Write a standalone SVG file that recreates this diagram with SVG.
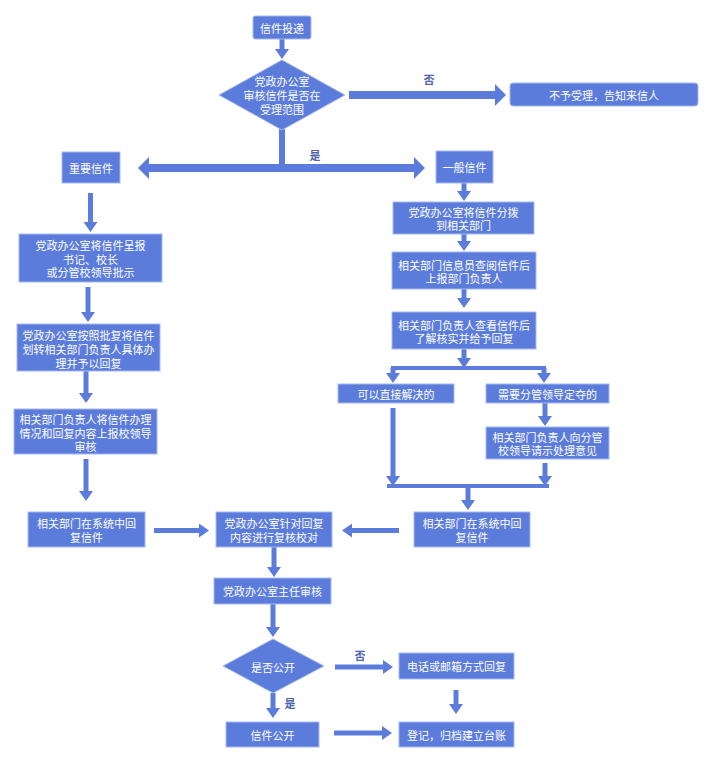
<svg xmlns="http://www.w3.org/2000/svg" width="712" height="762" viewBox="0 0 712 762">
<style>
.b{fill:#5c7cdc;stroke:#a6b8ef;stroke-width:1}
.t{fill:#fff;font-family:"Noto Sans CJK SC","Liberation Sans",sans-serif;font-size:11px;text-anchor:middle;dominant-baseline:central}
.l{fill:#4f65ad;font-family:"Noto Sans CJK SC","Liberation Sans",sans-serif;font-size:11px;font-weight:bold;text-anchor:middle;dominant-baseline:central}
.c{stroke:#5c7cdc;stroke-width:5;fill:none}
.c.a{marker-end:url(#ah)}
.k{stroke:#5c7cdc;stroke-width:8;fill:none;marker-end:url(#bh)}
.j{stroke:#5c7cdc;stroke-width:4;fill:none}
</style>
<defs>
<marker id="ah" markerUnits="userSpaceOnUse" markerWidth="10" markerHeight="14" refX="0" refY="7" orient="auto"><path d="M0,0 L10,7 L0,14 z" fill="#5c7cdc"/></marker>
<marker id="bh" markerUnits="userSpaceOnUse" markerWidth="11" markerHeight="22" refX="0" refY="11" orient="auto-start-reverse"><path d="M0,0 L11,11 L0,22 z" fill="#5c7cdc"/></marker>
</defs>
<rect width="712" height="762" fill="#fff"/>
<g id="connectors">
<line class="c a" x1="282" y1="38" x2="282" y2="49"/>
<line class="k" x1="349" y1="95" x2="495" y2="95"/>
<line class="c" x1="282" y1="129" x2="282" y2="169" style="stroke-width:6"/>
<line class="k" x1="149" y1="168" x2="414" y2="168" style="marker-start:url(#bh)"/>
<line class="c a" x1="464" y1="183" x2="464" y2="191"/>
<line class="c a" x1="90.5" y1="193" x2="90.5" y2="222"/>
<line class="c a" x1="88" y1="287" x2="88" y2="312"/>
<line class="c a" x1="86" y1="371" x2="86" y2="393"/>
<line class="c a" x1="86" y1="459" x2="86" y2="491"/>
<line class="c a" x1="464" y1="234" x2="464" y2="241"/>
<line class="c a" x1="464" y1="289" x2="464" y2="298"/>
<line class="c a" x1="464" y1="349" x2="464" y2="358"/>
<line class="j" x1="391" y1="368" x2="546" y2="368"/>
<line class="c a" x1="393" y1="368" x2="393" y2="373"/>
<line class="c a" x1="544" y1="368" x2="544" y2="373"/>
<line class="c a" x1="545" y1="403" x2="545" y2="416"/>
<line class="c a" x1="393" y1="408" x2="393" y2="476"/>
<line class="c a" x1="545" y1="463" x2="545" y2="476"/>
<line class="j" x1="387" y1="486" x2="549" y2="486"/>
<line class="c a" x1="468" y1="486" x2="468" y2="500"/>
<line class="c a" x1="154" y1="530.5" x2="199" y2="530.5"/>
<line class="c a" x1="399" y1="530.5" x2="352" y2="530.5"/>
<line class="c a" x1="274" y1="547" x2="274" y2="567"/>
<line class="c a" x1="273" y1="604" x2="273" y2="627"/>
<line class="c a" x1="335" y1="667" x2="383" y2="667"/>
<line class="c a" x1="456" y1="690" x2="456" y2="704"/>
<line class="c a" x1="273" y1="693" x2="273" y2="708"/>
<line class="c a" x1="334" y1="733" x2="382" y2="733"/>
<text class="l" x="429" y="79">否</text>
<text class="l" x="315" y="155">是</text>
<text class="l" x="360" y="655">否</text>
<text class="l" x="290" y="703">是</text>
</g>
<g id="n_start"><rect class="b" x="253" y="16" width="58" height="23" rx="2"/><text class="t" x="282" y="27.5">信件投递</text></g>
<g id="n_check"><polygon class="b" points="282,60 345,95 282,130 219,95"/><text class="t" x="282" y="81">党政办公室</text><text class="t" x="282" y="95">审核信件是否在</text><text class="t" x="282" y="109">受理范围</text></g>
<g id="n_reject"><rect class="b" x="510" y="83" width="188" height="23" rx="3"/><text class="t" x="604" y="94.5">不予受理，告知来信人</text></g>
<g id="n_important"><rect class="b" x="62" y="152" width="58" height="31"/><text class="t" x="91" y="167.5">重要信件</text></g>
<g id="n_general"><rect class="b" x="436" y="151" width="57" height="32"/><text class="t" x="464.5" y="167">一般信件</text></g>
<g id="n_l1"><rect class="b" x="19" y="234" width="143" height="48"/><text class="t" x="90.5" y="245">党政办公室将信件呈报</text><text class="t" x="90.5" y="258.5">书记、校长</text><text class="t" x="90.5" y="272">或分管校领导批示</text></g>
<g id="n_l2"><rect class="b" x="17" y="324" width="143" height="47"/><text class="t" x="88.5" y="335">党政办公室按照批复将信件</text><text class="t" x="88.5" y="349">划转相关部门负责人具体办</text><text class="t" x="88.5" y="362.5">理并予以回复</text></g>
<g id="n_l3"><rect class="b" x="14" y="409" width="143" height="45"/><text class="t" x="85.5" y="419">相关部门负责人将信件办理</text><text class="t" x="85.5" y="432.5">情况和回复内容上报校领导</text><text class="t" x="85.5" y="446">审核</text></g>
<g id="n_l4"><rect class="b" x="28" y="512" width="117" height="35"/><text class="t" x="86.5" y="523">相关部门在系统中回</text><text class="t" x="86.5" y="537">复信件</text></g>
<g id="n_c1"><rect class="b" x="216" y="512" width="116" height="35"/><text class="t" x="274" y="523">党政办公室针对回复</text><text class="t" x="274" y="537">内容进行复核校对</text></g>
<g id="n_r4"><rect class="b" x="414" y="512" width="116" height="35"/><text class="t" x="472" y="523">相关部门在系统中回</text><text class="t" x="472" y="537">复信件</text></g>
<g id="n_ra"><rect class="b" x="393" y="202" width="141" height="32"/><text class="t" x="463.5" y="212">党政办公室将信件分拨</text><text class="t" x="463.5" y="225">到相关部门</text></g>
<g id="n_rb"><rect class="b" x="392" y="252" width="144" height="37"/><text class="t" x="464" y="265">相关部门信息员查阅信件后</text><text class="t" x="464" y="278">上报部门负责人</text></g>
<g id="n_rc"><rect class="b" x="392" y="312" width="144" height="37"/><text class="t" x="464" y="325">相关部门负责人查看信件后</text><text class="t" x="464" y="338">了解核实并给予回复</text></g>
<g id="n_rd"><rect class="b" x="338" y="384" width="116" height="19"/><text class="t" x="396" y="393.5">可以直接解决的</text></g>
<g id="n_re"><rect class="b" x="486" y="384" width="123" height="19"/><text class="t" x="547.5" y="393.5">需要分管领导定夺的</text></g>
<g id="n_rf"><rect class="b" x="486" y="427" width="123" height="32"/><text class="t" x="547.5" y="437">相关部门负责人向分管</text><text class="t" x="547.5" y="450">校领导请示处理意见</text></g>
<g id="n_c2"><rect class="b" x="214" y="578" width="117" height="26"/><text class="t" x="272.5" y="591">党政办公室主任审核</text></g>
<g id="n_public"><polygon class="b" points="273,639 324,666 273,693 223,666"/><text class="t" x="273" y="666.5">是否公开</text></g>
<g id="n_phone"><rect class="b" x="399" y="653" width="115" height="26"/><text class="t" x="456.5" y="666">电话或邮箱方式回复</text></g>
<g id="n_open"><rect class="b" x="226" y="722" width="93" height="25"/><text class="t" x="272.5" y="734.5">信件公开</text></g>
<g id="n_archive"><rect class="b" x="399" y="722" width="115" height="25"/><text class="t" x="456.5" y="734.5">登记，归档建立台账</text></g>
</svg>
